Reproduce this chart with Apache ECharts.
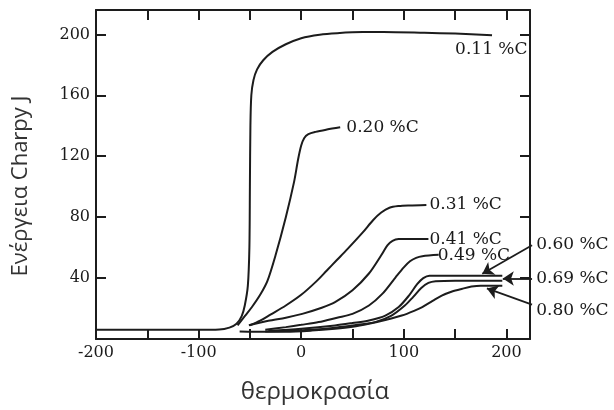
<!DOCTYPE html>
<html>
<head>
<meta charset="utf-8">
<script src="https://cdn.jsdelivr.net/npm/echarts@6/dist/echarts.min.js"></script>
<style>
html,body{margin:0;padding:0;background:#fff;}
#chart{width:614px;height:410px;}
</style>
</head>
<body>
<div id="chart"></div>
<script>
// ---- data (temperature °C, Charpy energy J) ----
var xTickLabels = [-200, -100, 0, 100, 200];
var yTickLabels = [40, 80, 120, 160, 200];

var c011 = [[-200,6],[-150,6],[-100,6],[-80,6.2],[-70,7.5],[-63,10],[-58,15],[-55,22],[-52,35],[-50.5,60],[-50,100],[-49.5,140],[-48.6,160],[-46.5,170],[-43,177],[-37,183],[-28,188.5],[-15,193.5],[0,197.5],[18,199.8],[35,200.8],[60,201.5],[80,201.5],[120,201],[150,200.5],[186,199.5]];
var c020 = [[-62,9],[-55,15],[-48,21],[-40,29],[-33,38],[-25,55],[-15,80],[-7,103],[-3,118],[0,127],[3,132],[7,134.5],[14,136],[25,137.5],[38,139]];
var c031 = [[-50,9],[-40,12],[-30,16],[-15,22],[0,29],[15,38],[25,45],[35,52],[45,59],[60,70],[70,78],[78,83],[86,86.2],[95,87.3],[106,87.7],[122,88]];
var c041 = [[-51,9],[-32,12],[-15,14],[1,16.5],[20,20.5],[33,24.2],[50,32],[66,43],[78,55],[84,61.5],[89,64.5],[95,65.6],[124,65.6]];
var c049 = [[-35,6],[-15,7.8],[0,9.3],[17,11.1],[35,14],[50,16.5],[66,22],[79,29.6],[92,40.5],[100,47],[106,51],[112,53.3],[118,54.4],[134,55.3]];
var c060 = [[-32,5.2],[0,6.7],[33,8.9],[50,10.5],[66,12.2],[82,15.4],[95,21],[105,28.5],[113,36],[119,40],[125,41.6],[160,41.6],[196,41.6]];
var c069 = [[-35,5],[-15,5.2],[10,6],[33,7.4],[55,9.3],[72,11.1],[88,15.4],[101,22],[109,27.5],[117,33.5],[124,36.8],[131,37.9],[150,38.3],[196,38.3]];
var c080 = [[-60,5],[-35,4.8],[-15,4.8],[10,5.5],[33,6.7],[50,8],[66,10],[82,12.5],[98,15.4],[110,18.5],[118,21],[128,25],[137,28.5],[147,31.2],[157,33],[166,34.4],[175,35],[185,35],[196,35]];

var curveNames = ['0.11 %C','0.20 %C','0.31 %C','0.41 %C','0.49 %C','0.60 %C','0.69 %C','0.80 %C'];
var curves = [c011, c020, c031, c041, c049, c060, c069, c080];

// label anchors (data coords, left-middle of text)
var labelAnchors = [[150,190],[44,138.6],[125,88.4],[125,65.6],[133,54.6],[229,62.3],[229,39.4],[229,18.7]];

// arrows from external labels to curves
var arrows = [
  [[225,61.5],[176.5,42.8]],
  [[225,39.7],[196.5,39.7]],
  [[225,22.6],[181,33.2]]
];

var xTitle = 'θερμοκρασία';
var yTitle = 'Ενέργεια Charpy J';

// ---- chart ----
var ink = '#1c1c1c';
var chart = echarts.init(document.getElementById('chart'), null, {renderer:'canvas'});

function axisCommon(extra){
  return Object.assign({
    type:'value',
    axisLine:{show:true, onZero:false, lineStyle:{color:ink, width:2}},
    axisTick:{show:true, inside:true, length:10, lineStyle:{color:ink, width:2}},
    splitLine:{show:false}
  }, extra);
}

var series = curves.map(function(c, i){
  return {
    type:'line', name:curveNames[i], data:c,
    xAxisIndex:0, yAxisIndex:0,
    showSymbol:false, symbol:'none',
    smooth:0.3,
    lineStyle:{color:ink, width:2},
    itemStyle:{color:ink},
    animation:false, silent:true
  };
});
series.push({
  type:'lines', coordinateSystem:'cartesian2d', xAxisIndex:0, yAxisIndex:0,
  clip:false,
  symbol:['none','arrow'], symbolSize:[0,11],
  lineStyle:{color:ink, width:1.8, opacity:1},
  data: arrows.map(function(a){ return {coords:a}; }),
  animation:false, silent:true
});

chart.setOption({
  animation:false,
  backgroundColor:'#fff',
  grid:{left:96, right:84, top:10, bottom:71, containLabel:false},
  xAxis:[
    axisCommon({min:-200, max:223, interval:50, position:'bottom',
      axisLabel:{show:true, margin:6, color:'#1a1a1a', fontFamily:'DejaVu Serif', fontSize:16,
        showMaxLabel:false,
        formatter:function(v){ return xTickLabels.indexOf(v) >= 0 ? String(v) : ''; }}}),
    axisCommon({min:-200, max:223, interval:50, position:'top', axisLabel:{show:false}})
  ],
  yAxis:[
    axisCommon({min:0, max:216, interval:40, position:'left',
      axisLabel:{show:true, margin:6, color:'#1a1a1a', fontFamily:'DejaVu Serif', fontSize:16,
        showMaxLabel:false,
        formatter:function(v){ return yTickLabels.indexOf(v) >= 0 ? String(v) : ''; }}}),
    axisCommon({min:0, max:216, interval:40, position:'right', axisLabel:{show:false}})
  ],
  series:series
});

var graphics = [];
labelAnchors.forEach(function(p, i){
  var px = chart.convertToPixel({xAxisIndex:0, yAxisIndex:0}, p);
  graphics.push({
    type:'text', x:px[0], y:px[1], z:100,
    style:{text:curveNames[i], fill:'#1a1a1a', font:'17px "DejaVu Serif"',
      textAlign:'left', textVerticalAlign:'middle'}
  });
});
graphics.push({
  type:'text', x:315, y:392, z:100,
  style:{text:xTitle, fill:'#333', font:'24px "Open Sans"', textAlign:'center', textVerticalAlign:'middle'}
});
graphics.push({
  type:'text', x:21, y:186, rotation:Math.PI/2, z:100,
  style:{text:yTitle, fill:'#333', font:'22px "Open Sans"', textAlign:'center', textVerticalAlign:'middle'}
});
chart.setOption({graphic:graphics});
</script>
</body>
</html>
